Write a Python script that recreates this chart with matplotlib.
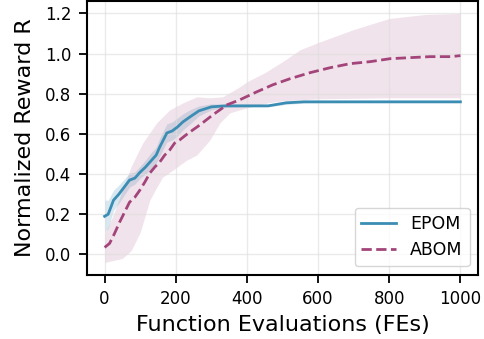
import matplotlib.pyplot as plt
import numpy as np

# EPOM mean curve and band half-width
fe_epom = [0, 10, 25, 40, 55, 70, 85, 100, 115, 130, 145, 155, 165, 175, 190, 205,
           220, 240, 265, 300, 340, 460, 510, 560, 700, 850, 1000]
epom = [0.19, 0.20, 0.27, 0.30, 0.335, 0.37, 0.38, 0.41, 0.435, 0.465, 0.495, 0.535,
        0.57, 0.605, 0.615, 0.635, 0.66, 0.685, 0.715, 0.735, 0.74, 0.74, 0.755, 0.76,
        0.76, 0.76, 0.76]
epom_sd = [0.08, 0.07, 0.05, 0.045, 0.04, 0.035, 0.03, 0.03, 0.035, 0.04, 0.04, 0.045,
           0.045, 0.045, 0.045, 0.045, 0.04, 0.035, 0.025, 0.015, 0.008, 0.005, 0.008,
           0.006, 0.005, 0.005, 0.005]

# ABOM mean curve
fe_abom = [0, 14, 28, 42, 56, 70, 85, 99, 113, 127, 141, 155, 169, 183, 197, 211, 225,
           240, 268, 304, 344, 380, 428, 473, 521, 577, 634, 690, 746, 803, 859, 915,
           972, 1000]
abom = [0.035, 0.055, 0.105, 0.16, 0.21, 0.26, 0.285, 0.32, 0.36, 0.405, 0.435, 0.46,
        0.495, 0.52, 0.555, 0.57, 0.59, 0.61, 0.645, 0.695, 0.745, 0.77, 0.81, 0.845,
        0.875, 0.905, 0.93, 0.95, 0.96, 0.975, 0.98, 0.985, 0.985, 0.99]

# ABOM band edges
fe_band = [0, 25, 50, 75, 107, 146, 183, 220, 259, 296, 332, 380, 400, 450, 500, 550,
           600, 700, 800, 900, 1000]
abom_hi = [0.10, 0.20, 0.32, 0.44, 0.555, 0.655, 0.72, 0.755, 0.785, 0.78, 0.785, 0.835,
           0.86, 0.905, 0.96, 1.02, 1.055, 1.12, 1.175, 1.195, 1.2]
fe_band_lo = [0, 50, 75, 100, 127, 145, 163, 192, 231, 259, 296, 324, 352, 380, 420,
              460, 500, 600, 800, 1000]
abom_lo = [-0.04, -0.02, 0.02, 0.11, 0.27, 0.33, 0.385, 0.42, 0.47, 0.495, 0.57, 0.655,
           0.705, 0.72, 0.74, 0.755, 0.765, 0.775, 0.78, 0.78]

blue = '#3b8db4'
purple = '#a3457a'

fig = plt.figure(figsize=(4.85, 3.39), dpi=100)
ax = fig.add_axes([0.179, 0.189, 0.807, 0.808])

ep = np.array(epom)
sd = np.array(epom_sd)
grid_x = np.union1d(fe_band, fe_band_lo)
hi = np.interp(grid_x, fe_band, abom_hi)
lo = np.interp(grid_x, fe_band_lo, abom_lo)
ax.fill_between(fe_epom, ep - sd, ep + sd, color=blue, alpha=0.2, linewidth=0)
ax.fill_between(grid_x, lo, hi, color=purple, alpha=0.15, linewidth=0)
ax.plot(fe_epom, epom, color=blue, linewidth=2, label='EPOM')
ax.plot(fe_abom, abom, color=purple, linewidth=2, linestyle='--', label='ABOM')

ax.set_xticks([0, 200, 400, 600, 800, 1000])
ax.set_yticks([0.0, 0.2, 0.4, 0.6, 0.8, 1.0, 1.2])
ax.tick_params(labelsize=12, length=5.5, width=1.3, pad=5.5)
ax.grid(True, color='#dddddd', alpha=0.6, linewidth=1)
for s in ax.spines.values():
    s.set_linewidth(1.5)

ax.set_xlabel('Function Evaluations (FEs)', fontsize=16, labelpad=5)
ax.set_ylabel('Normalized Reward R', fontsize=16, labelpad=7)
ax.legend(loc='lower right', fontsize=12.5)

fig.savefig('out.png', dpi=100)
